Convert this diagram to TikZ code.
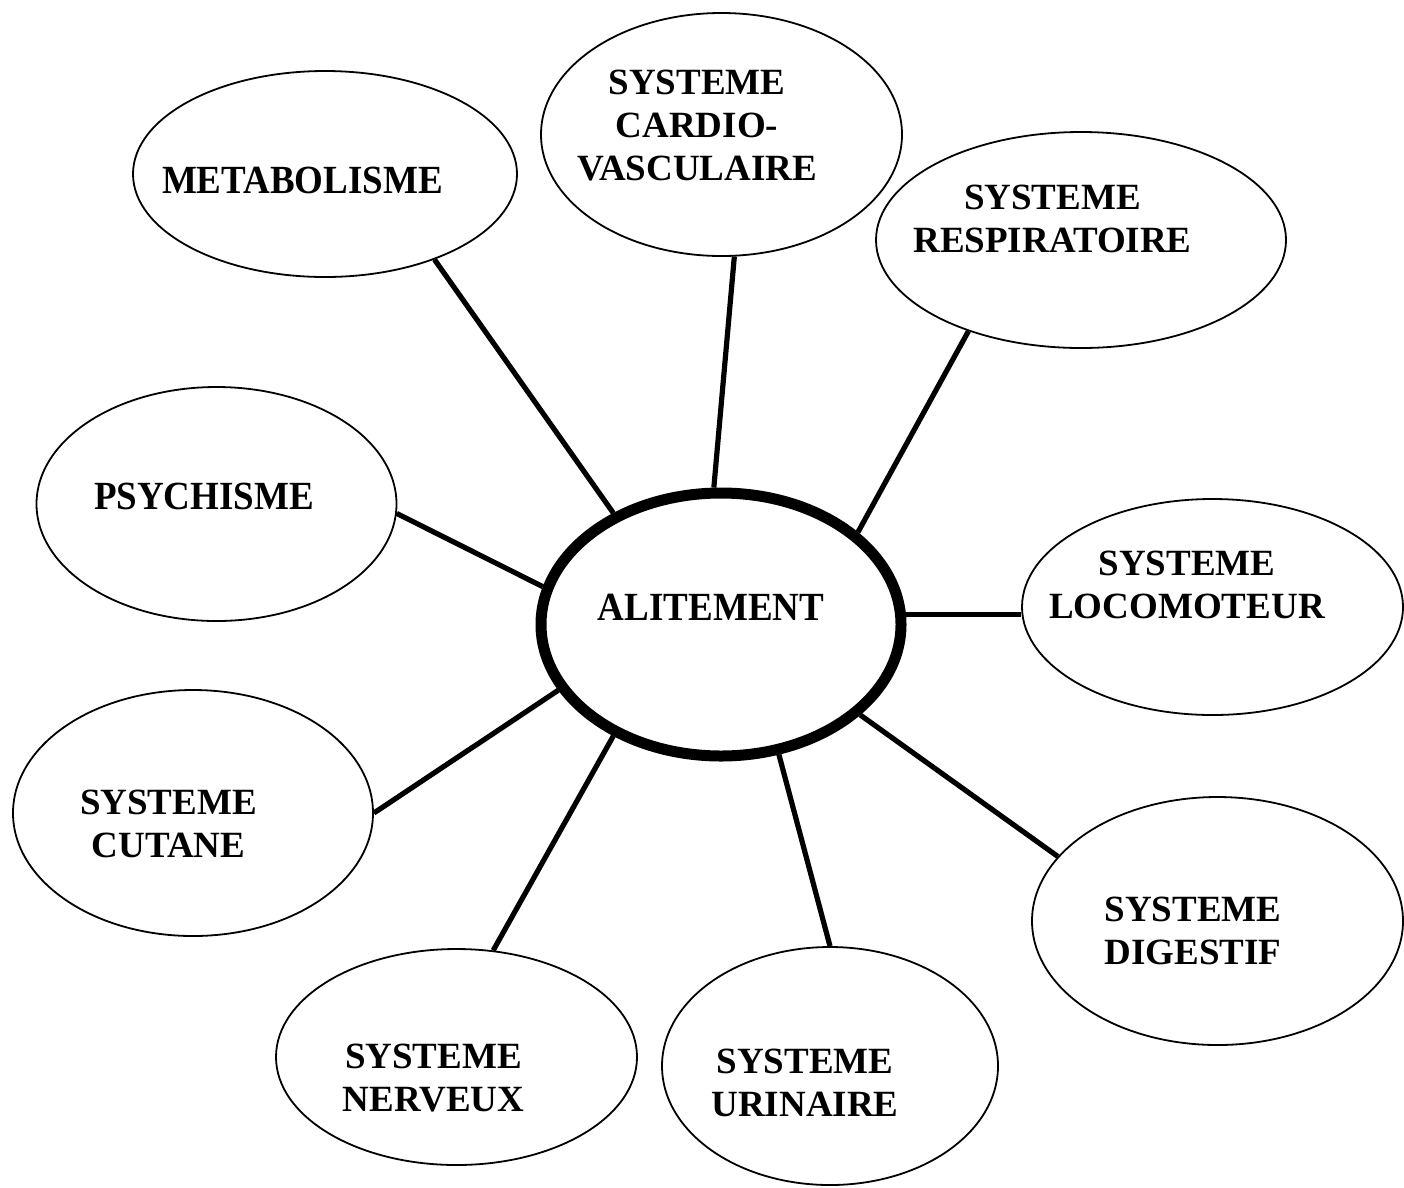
\documentclass[tikz,border=0pt]{standalone}
\usepackage{fontspec}
\setmainfont{Liberation Serif}
\usetikzlibrary{shapes.geometric}
\begin{document}
\begin{tikzpicture}[x=1pt,y=-1pt,
  bubble/.style={draw=black, line width=1.8pt, ellipse, inner sep=0pt, fill=white},
  hub/.style={bubble, line width=11pt},
  lbl/.style={font=\fontsize{37}{43}\selectfont\bfseries, align=center, inner sep=0pt, anchor=north},
  link/.style={line width=5.2pt}]
\useasboundingbox (0,0) rectangle (1404,1187);
\fill[white] (0,0) rectangle (1404,1187);
% ellipses
\node[bubble, minimum width=384pt, minimum height=206pt] (meta) at (325,174) {};
\node[bubble, minimum width=361pt, minimum height=243pt] (cardio) at (721.5,134.5) {};
\node[bubble, minimum width=410pt, minimum height=216pt] (resp) at (1081,240) {};
\node[bubble, minimum width=360pt, minimum height=234pt] (psych) at (216.5,504) {};
\node[hub, minimum width=360pt, minimum height=263pt] (alit) at (721,624.5) {};
\node[bubble, minimum width=381pt, minimum height=216pt] (loco) at (1212.5,607) {};
\node[bubble, minimum width=360pt, minimum height=246pt] (cutane) at (193,813) {};
\node[bubble, minimum width=371pt, minimum height=248pt] (dig) at (1217.5,921) {};
\node[bubble, minimum width=361pt, minimum height=216pt] (nerv) at (456.5,1057) {};
\node[bubble, minimum width=336pt, minimum height=238pt] (urin) at (830,1066) {};
% labels
\node[lbl] (metaT) at (302.5,167) {\scalebox{1}[1.08]{METABOLISME}};
\node[lbl] (cardioT) at (697,70) {SYSTEME\\CARDIO-\\VASCULAIRE};
\node[lbl] (respT) at (1052.5,185) {SYSTEME\\RESPIRATOIRE};
\node[lbl] (psychT) at (204,483) {\scalebox{1}[1.08]{PSYCHISME}};
\node[lbl] (alitT) at (711,594) {\scalebox{1}[1.08]{ALITEMENT}};
\node[lbl] (locoT) at (1187,551) {SYSTEME\\LOCOMOTEUR};
\node[lbl] (cutaneT) at (168.5,790) {SYSTEME\\CUTANE};
\node[lbl] (digT) at (1193,897) {SYSTEME\\DIGESTIF};
\node[lbl] (nervT) at (433.5,1044) {SYSTEME\\NERVEUX};
\node[lbl] (urinT) at (805,1049) {SYSTEME\\URINAIRE};
% connectors
\draw[link] (alit.134.1) -- (meta.-38);
\draw[link] (alit.93.7) -- (cardio.-84.6);
\draw[link] (alit.34) -- (resp.-141.5);
\draw[link] (alit.168.8) -- (psych.-3.8);
\draw[link] (alit.3.9) -- (alit.3.9 -| loco.west);
\draw[link] (alit.-158.2) -- (cutane.0);
\draw[link] (alit.-33.3) -- (dig.158.6);
\draw[link] (alit.-134.9) -- (nerv.71.3);
\draw[link] (alit.-66) -- (urin.north);
\end{tikzpicture}
\end{document}
